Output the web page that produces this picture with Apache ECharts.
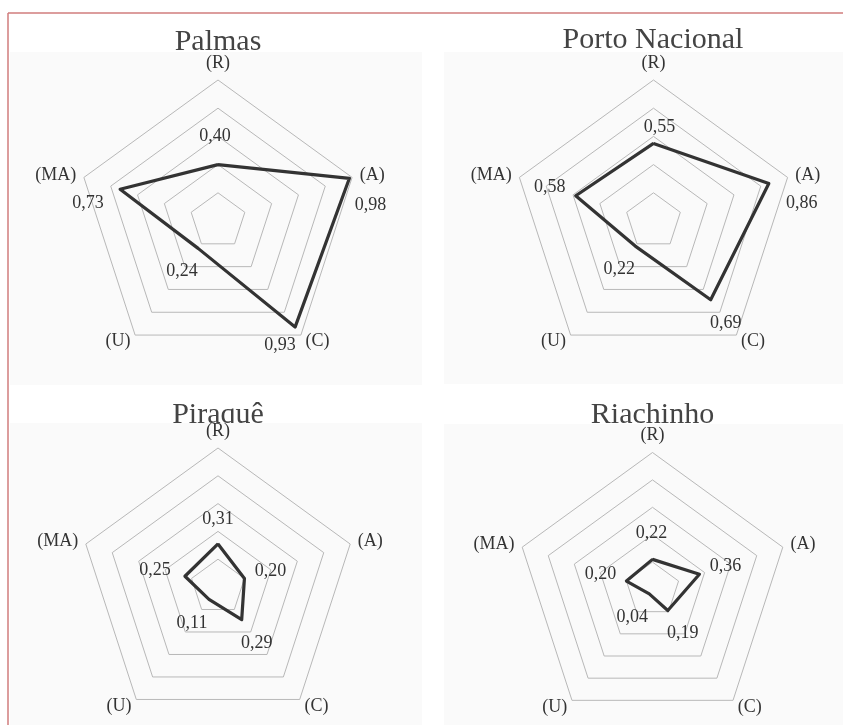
<!DOCTYPE html>
<html>
<head>
<meta charset="utf-8">
<script src="https://cdn.jsdelivr.net/npm/echarts@6/dist/echarts.min.js"></script>
<style>
  html, body { margin: 0; padding: 0; background: #fff; }
  #chart { width: 843px; height: 725px; }
</style>
</head>
<body>
<div id="chart"></div>
<script>
// indicator order runs counter-clockwise from the top in echarts
var indicators = ["(R)", "(MA)", "(U)", "(C)", "(A)"];
var titles = ["Palmas", "Porto Nacional", "Piraquê", "Riachinho"];
var palmas = [0.40, 0.73, 0.24, 0.93, 0.98];
var portoNacional = [0.55, 0.58, 0.22, 0.69, 0.86];
var piraque = [0.31, 0.25, 0.11, 0.29, 0.20];
var riachinho = [0.22, 0.20, 0.04, 0.19, 0.36];
var axisMax = 1;
var axisSplits = 5;

var serif = "'Liberation Serif', 'Times New Roman', serif";

// layout of each small radar (centre, radius, title bottom, panel box, label nudges)
var layout = [
  { cx: 218, cy: 221, r: 141, titleX: 218, titleY: 57, box: [10, 52, 412, 333],
    nudge: [[-3, -28], [-32, 14], [-16, 23], [-15, 18], [21, 27]] },
  { cx: 653.5, cy: 221, r: 141, titleX: 653, titleY: 55, box: [444, 52, 399, 332],
    nudge: [[6, -16], [-26, -8], [-16, 23], [15, 24], [33, 20]] },
  { cx: 218, cy: 587, r: 139, titleX: 218, titleY: 430, box: [10, 423, 412, 302],
    nudge: [[0, -25], [-30, -6], [-17, 24], [15, 24], [26, -7]] },
  { cx: 652.5, cy: 589.5, r: 137, titleX: 652.5, titleY: 430, box: [444, 424, 399, 301],
    nudge: [[-1, -26], [-26, -7], [-17, 23], [15, 23], [26, -8]] }
];
var allValues = [palmas, portoNacional, piraque, riachinho];

function fmt(v) {
  return v.toFixed(2).replace(".", ",");
}

var chart = echarts.init(document.getElementById("chart"));

var radars = [];
var series = [];
var graphics = [
  // red frame of the figure box
  { type: "line", z: -5, shape: { x1: 8, y1: 13, x2: 843, y2: 13 },
    style: { stroke: "#d07c7c", lineWidth: 1.5 } },
  { type: "line", z: -5, shape: { x1: 8, y1: 13, x2: 8, y2: 725 },
    style: { stroke: "#d07c7c", lineWidth: 1.5 } }
];

layout.forEach(function (L, k) {
  var vals = allValues[k];
  var texts = vals.map(fmt);

  graphics.push({
    type: "text", z: -20,
    x: L.titleX, y: L.titleY,
    style: { text: titles[k], textAlign: "center", textVerticalAlign: "bottom",
      fontSize: 30, fontFamily: serif, fill: "#444" }
  });
  graphics.push({
    type: "rect", z: -10,
    shape: { x: L.box[0], y: L.box[1], width: L.box[2], height: L.box[3] },
    style: { fill: "#fafafa" }
  });

  radars.push({
    center: [L.cx, L.cy],
    radius: L.r,
    startAngle: 90,
    splitNumber: axisSplits,
    shape: "polygon",
    nameGap: 8,
    axisName: { color: "#333", fontFamily: serif, fontSize: 18 },
    indicator: indicators.map(function (n) { return { name: n, min: 0, max: axisMax }; }),
    axisLine: { show: false },
    axisTick: { show: false },
    axisLabel: { show: false },
    splitArea: { show: false },
    splitLine: { lineStyle: { color: "#b8b8b8", width: 1 } }
  });

  series.push({
    type: "radar",
    radarIndex: k,
    silent: true,
    symbol: "circle",
    symbolSize: 2,
    itemStyle: { color: "#333" },
    lineStyle: { color: "#333", width: 3.2 },
    label: {
      show: true,
      position: "inside",
      color: "#333",
      fontFamily: serif,
      fontSize: 18,
      formatter: function (p) {
        var v = Array.isArray(p.value) ? p.value[p.dimensionIndex] : p.value;
        return fmt(v);
      }
    },
    labelLayout: function (p) {
      var i = texts.indexOf(p.text);
      if (i < 0) return {};
      return { dx: L.nudge[i][0], dy: L.nudge[i][1] };
    },
    data: [{ value: vals, name: titles[k] }]
  });
});

var option = {
  animation: false,
  backgroundColor: "#fff",
  graphic: graphics,
  radar: radars,
  series: series
};

chart.setOption(option);
</script>
</body>
</html>
